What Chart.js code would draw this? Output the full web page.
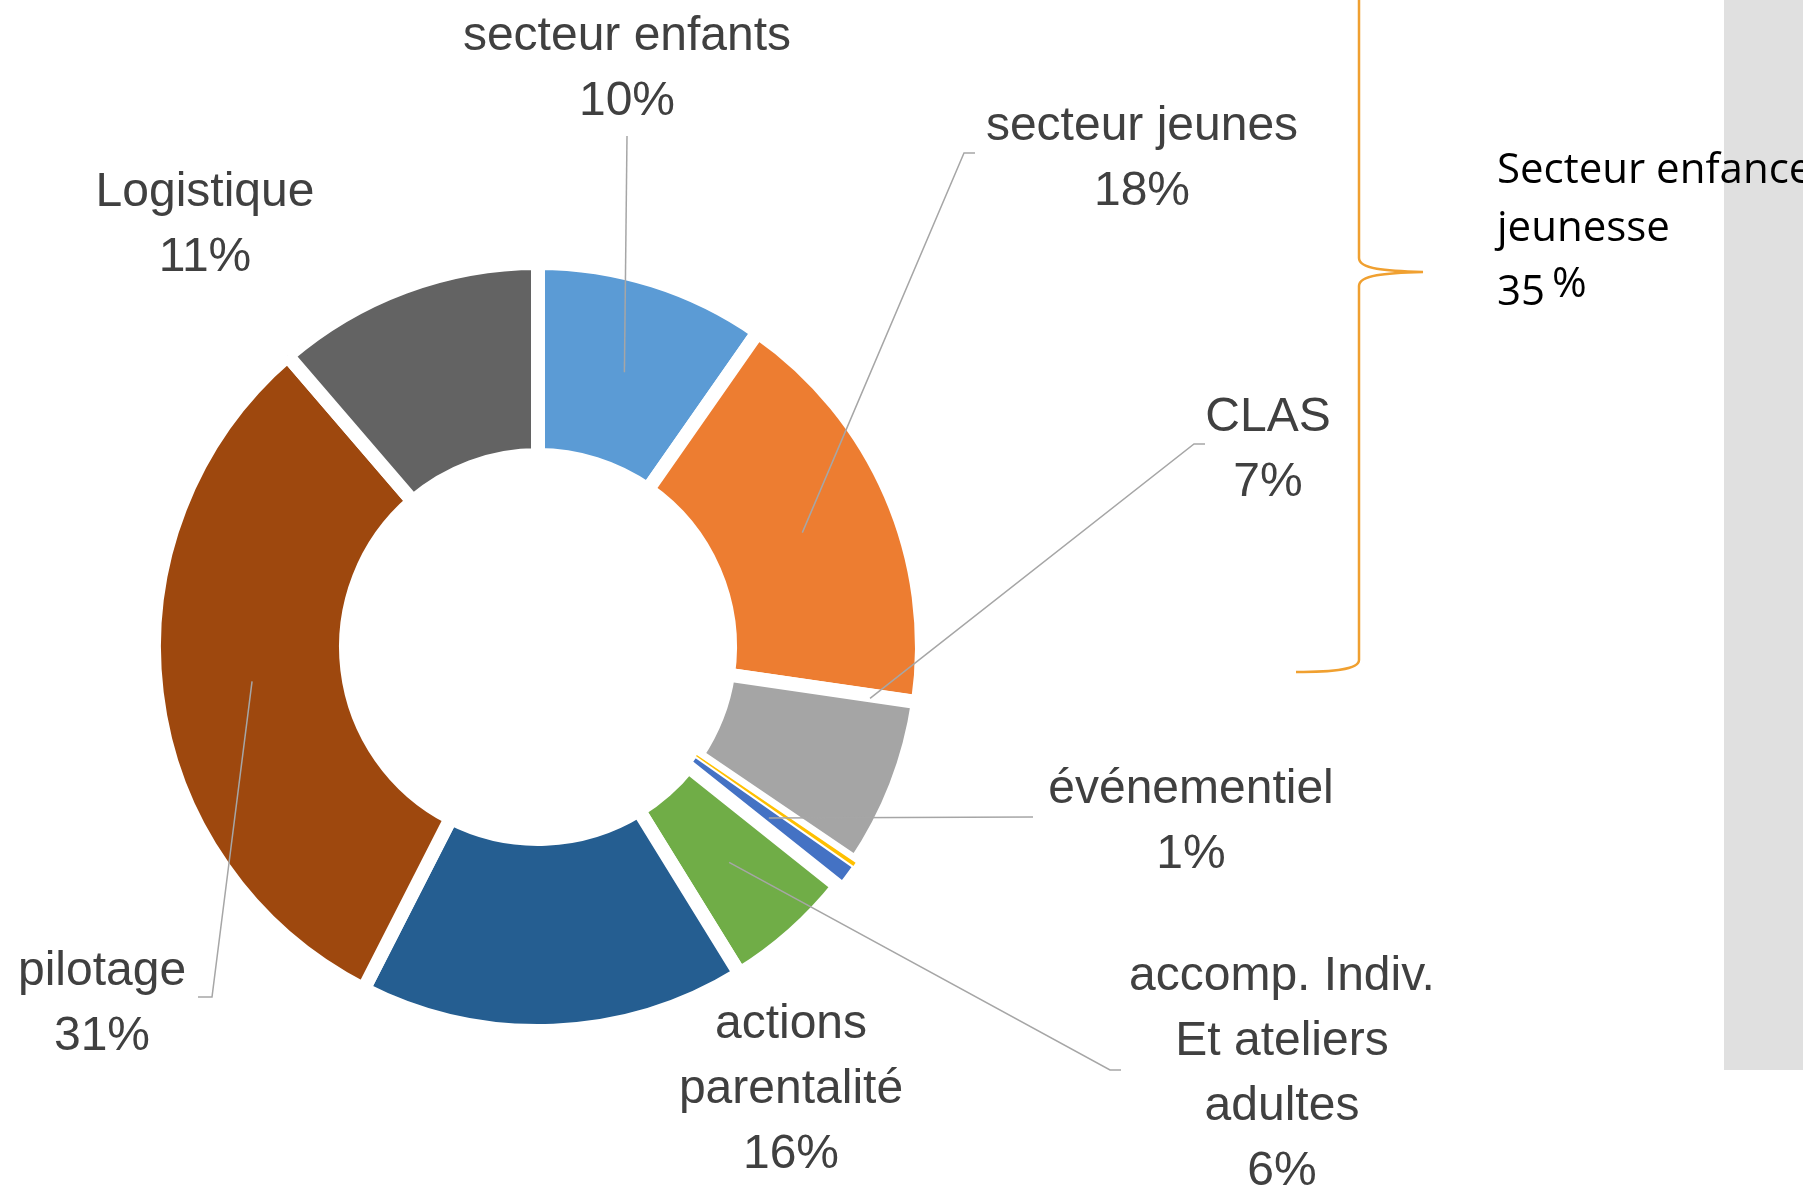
<!DOCTYPE html>
<html>
<head>
<meta charset="utf-8">
<script src="https://cdn.jsdelivr.net/npm/chart.js@4.4.1/dist/chart.umd.min.js"></script>
<style>
html, body { margin: 0; padding: 0; background: #fff; overflow: hidden; }
#wrap { position: relative; width: 1803px; height: 1191px; }
</style>
</head>
<body>
<div id="wrap"><canvas id="donutChart" width="1803" height="1191"></canvas></div>
<script>
// data (shares in %)
const categories = ["secteur enfants", "secteur jeunes", "CLAS", "", "événementiel",
  "accomp. Indiv. Et ateliers adultes", "actions parentalité", "pilotage", "Logistique"];
const labelLines = [
  ["secteur enfants"], ["secteur jeunes"], ["CLAS"], [], ["événementiel"],
  ["accomp. Indiv.", "Et ateliers", "adultes"], ["actions", "parentalité"], ["pilotage"], ["Logistique"]
];
const values = [9.7, 17.6, 7.2, 0.2, 1.0, 5.5, 16.3, 31.2, 11.3];
const groupLines = ["Secteur enfance", "jeunesse"];
const groupValue = "35";

const colors = ["#5B9BD5", "#ED7D31", "#A5A5A5", "#FFC000", "#4472C4",
  "#70AD47", "#255E91", "#9E480E", "#636363"];
const borderWidths = [14, 14, 14, 0, 2, 14, 14, 14, 14];

// where each label sits (first baseline) and how its leader runs
const labelLayout = [
  { x: 627, y: 50, lead: [[627, 136]], t: 0.5, rf: 0.5 },
  { x: 1142, y: 140, lead: [[975, 153], [964, 153]], t: 0.5, rf: 0.5 },
  { x: 1268, y: 431, lead: [[1205, 444], [1194, 444]], t: 0.02, rf: 0.75 },
  null,
  { x: 1191, y: 803, lead: [[1033, 817]], t: 0.5, rf: 0.5, flat: true },
  { x: 1282, y: 990, lead: [[1121, 1070], [1110, 1070]], t: 0.5, rf: 0.5 },
  { x: 791, y: 1038, lead: null },
  { x: 102, y: 985, lead: [[198, 997], [212, 997]], t: 0.5, rf: 0.5 },
  { x: 205, y: 206, lead: null }
];

const total = values.reduce((a, b) => a + b, 0);
const pct = v => Math.round(v / total * 100) + "%";

const LINE_H = 65;
const LABEL_FONT = "48px 'Liberation Sans', Arial, sans-serif";

const backdrop = {
  id: "backdrop",
  beforeDraw(chart) {
    const ctx = chart.ctx;
    ctx.save();
    ctx.fillStyle = "#E0E0E0";
    ctx.fillRect(1724, 0, 79, 1070);
    ctx.restore();
  }
};

const labels = {
  id: "labels",
  afterDatasetsDraw(chart) {
    const ctx = chart.ctx;
    const meta = chart.getDatasetMeta(0);
    ctx.save();

    // leader lines
    ctx.strokeStyle = "#A6A6A6";
    ctx.lineWidth = 1.5;
    labelLayout.forEach((lay, i) => {
      if (!lay || !lay.lead) return;
      const arc = meta.data[i].getProps(["x", "y", "startAngle", "endAngle", "innerRadius", "outerRadius"], true);
      const a = arc.startAngle + lay.t * (arc.endAngle - arc.startAngle);
      const r = arc.innerRadius + lay.rf * (arc.outerRadius - arc.innerRadius);
      let ax = arc.x + r * Math.cos(a);
      let ay = arc.y + r * Math.sin(a);
      ctx.beginPath();
      ctx.moveTo(lay.lead[0][0], lay.lead[0][1]);
      for (let k = 1; k < lay.lead.length; k++) ctx.lineTo(lay.lead[k][0], lay.lead[k][1]);
      ctx.lineTo(ax, lay.flat ? lay.lead[0][1] + 1 : ay);
      ctx.stroke();
    });

    // label texts
    ctx.font = LABEL_FONT;
    ctx.fillStyle = "#404040";
    ctx.textAlign = "center";
    ctx.textBaseline = "alphabetic";
    labelLayout.forEach((lay, i) => {
      if (!lay) return;
      const lines = labelLines[i].concat([pct(values[i])]);
      lines.forEach((s, k) => ctx.fillText(s, lay.x, lay.y + k * LINE_H));
    });

    // brace for the "secteur enfance jeunesse" group
    ctx.strokeStyle = "#F0A030";
    ctx.lineWidth = 2.5;
    ctx.beginPath();
    ctx.moveTo(1359, -10);
    ctx.lineTo(1359, 258);
    ctx.bezierCurveTo(1359, 269, 1385, 271, 1423, 272);
    ctx.bezierCurveTo(1385, 273, 1359, 275, 1359, 286);
    ctx.lineTo(1359, 660);
    ctx.bezierCurveTo(1359, 670, 1330, 672, 1296, 672);
    ctx.stroke();

    ctx.fillStyle = "#000";
    ctx.textAlign = "left";
    ctx.font = "42px 'Open Sans', 'Noto Sans', sans-serif";
    ctx.fillText(groupLines[0], 1497, 183);
    ctx.fillText(groupLines[1], 1497, 241);
    ctx.fillText(groupValue, 1497, 305);
    ctx.fillText("%", 1552, 297);
    ctx.restore();
  }
};

const donutChart = new Chart(document.getElementById("donutChart"), {
  type: "doughnut",
  data: {
    labels: categories,
    datasets: [{
      data: values,
      backgroundColor: colors,
      borderColor: "#ffffff",
      borderWidth: borderWidths,
      borderJoinStyle: "miter"
    }]
  },
  options: {
    responsive: false,
    devicePixelRatio: 1,
    animation: false,
    events: [],
    cutout: 192,
    layout: { padding: { left: 147, top: 256, right: 874, bottom: 153 } },
    plugins: { legend: { display: false }, tooltip: { enabled: false } }
  },
  plugins: [backdrop, labels]
});
</script>
</body>
</html>
